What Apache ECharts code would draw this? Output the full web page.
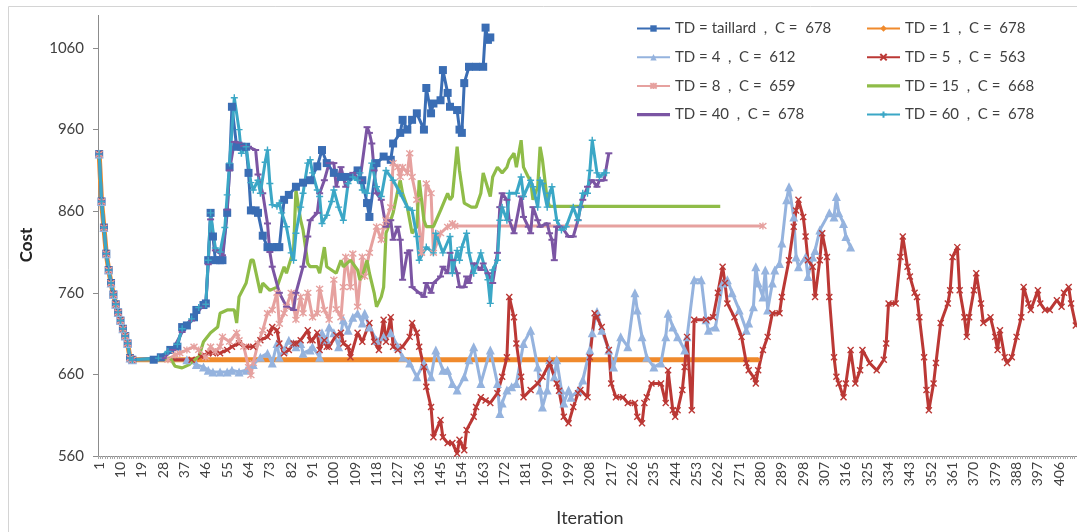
<!DOCTYPE html>
<html>
<head>
<meta charset="utf-8">
<script src="https://cdn.jsdelivr.net/npm/echarts@6/dist/echarts.min.js"></script>
<style>
  html, body { margin: 0; padding: 0; background: #ffffff; }
  #chart { width: 1077px; height: 532px; }
</style>
</head>
<body>
<div id="chart"></div>
<script>
// Iterations on the x axis (1 … 413), labelled every 9th.
const iterationCount = 413;
const iterations = Array.from({ length: iterationCount }, (_, i) => String(i + 1));

// Y axis range and step.
const costMin = 560;
const costMax = 1100;
const costStep = 100;

// Legend entries.
const names = {
  taillard: 'TD = taillard  ,  C =  678',
  td1: 'TD = 1  ,  C =  678',
  td4: 'TD = 4  ,  C =  612',
  td5: 'TD = 5  ,  C =  563',
  td8: 'TD = 8  ,  C =  659',
  td15: 'TD = 15  ,  C =  668',
  td40: 'TD = 40  ,  C =  678',
  td60: 'TD = 60  ,  C =  678'
};

// Shared opening descent of every run: [iteration, cost].
const descent = [[1,930],[2,872],[3,840],[4,808],[5,788],[6,772],[7,758],[8,746],[9,736],[10,726],[11,716],[12,707],[13,698],[14,680],[15,678]];

const taillard = [[24,678],[27,681],[31,690],[34,694],[36,718],[38,720],[41,730],[42,739],[45,745],[46,747],[47,800],[48,858],[49,829],[50,800],[52,800],[53,800],[55,858],[56,914],[57,988],[59,939],[61,939],[63,939],[64,907],[65,861],[67,861],[68,858],[70,830],[72,816],[74,816],[76,816],[77,816],[79,874],[81,880],[84,890],[87,895],[90,898],[93,915],[95,935],[97,919],[100,907],[103,902],[106,902],[110,910],[112,898],[114,870],[115,853],[118,919],[121,927],[124,923],[125,943],[128,956],[129,972],[131,960],[133,972],[135,980],[138,960],[139,1011],[141,980],[142,992],[145,996],[146,1033],[148,1005],[149,988],[152,984],[153,960],[154,956],[155,1017],[157,1037],[160,1037],[163,1037],[164,1085],[165,1070],[166,1073]];

const td1 = [[279,678]];

const td4 = [[38,678],[42,672],[45,669],[47,665],[49,663],[52,663],[55,663],[57,665],[60,663],[63,665],[66,672],[69,681],[72,686],[74,674],[76,698],[77,681],[79,690],[81,702],[83,698],[84,694],[86,698],[87,686],[90,690],[91,694],[94,681],[95,711],[97,702],[98,718],[100,711],[102,694],[104,727],[106,714],[108,730],[110,735],[112,723],[113,735],[115,718],[118,702],[121,706],[124,711],[127,694],[129,681],[132,674],[135,657],[138,674],[141,657],[143,690],[146,665],[148,665],[150,649],[152,641],[155,657],[157,678],[159,694],[162,649],[166,690],[169,649],[170,612],[171,625],[173,641],[175,645],[177,649],[180,698],[183,714],[186,669],[187,641],[188,620],[190,641],[191,678],[193,657],[194,678],[196,641],[197,625],[199,641],[200,632],[203,640],[205,653],[208,690],[209,711],[211,737],[213,714],[216,690],[218,669],[221,706],[224,694],[227,760],[228,739],[230,706],[232,681],[235,669],[238,674],[240,706],[241,735],[243,718],[245,706],[248,690],[249,706],[252,776],[255,776],[257,727],[258,714],[261,718],[264,772],[266,776],[268,760],[271,739],[274,714],[275,723],[277,743],[278,792],[279,772],[281,755],[282,788],[283,739],[285,772],[286,788],[288,796],[289,821],[291,874],[292,890],[294,853],[295,804],[296,792],[299,804],[300,780],[302,804],[303,812],[305,837],[309,858],[311,853],[312,878],[313,858],[315,845],[316,829],[318,816]];

const td5 = [[40,678],[44,682],[47,686],[49,686],[52,686],[55,690],[57,694],[60,698],[63,694],[66,694],[69,702],[72,706],[73,711],[74,718],[76,714],[77,698],[79,686],[81,690],[83,698],[84,698],[86,702],[89,714],[90,702],[91,702],[93,711],[94,690],[96,702],[97,694],[98,694],[101,708],[103,711],[104,698],[106,694],[107,681],[110,711],[112,700],[115,723],[117,700],[119,690],[121,727],[122,700],[124,730],[125,694],[127,690],[129,694],[132,706],[133,723],[135,711],[136,694],[138,669],[139,645],[141,620],[142,583],[145,604],[146,583],[148,576],[150,576],[152,563],[153,580],[155,567],[156,592],[159,608],[160,620],[162,632],[164,628],[166,625],[169,637],[171,657],[173,681],[174,755],[176,730],[177,698],[179,657],[180,632],[183,641],[186,649],[188,657],[191,674],[194,649],[195,640],[197,608],[199,600],[201,620],[203,637],[204,641],[207,632],[208,681],[210,735],[211,730],[213,718],[216,690],[217,649],[219,632],[222,632],[224,625],[227,625],[228,608],[230,600],[231,625],[232,632],[234,649],[238,649],[240,625],[241,665],[243,616],[244,608],[245,616],[247,641],[248,669],[249,706],[251,616],[252,727],[257,727],[260,730],[262,760],[264,792],[265,772],[266,747],[269,730],[272,706],[274,674],[275,665],[277,657],[278,649],[279,665],[281,690],[283,706],[285,735],[288,735],[289,755],[292,800],[294,841],[295,861],[296,874],[298,853],[299,829],[300,800],[302,792],[303,755],[305,800],[306,833],[308,804],[309,755],[311,681],[312,657],[313,649],[315,632],[316,649],[318,690],[320,649],[322,665],[323,690],[326,674],[329,665],[332,678],[333,698],[334,747],[337,747],[339,804],[340,829],[342,792],[343,780],[345,760],[346,755],[347,730],[349,681],[350,641],[351,616],[353,649],[354,674],[356,723],[359,747],[360,763],[361,804],[363,816],[364,763],[366,730],[367,706],[368,730],[370,763],[371,784],[373,747],[374,723],[377,730],[379,706],[380,690],[381,714],[383,681],[384,674],[386,681],[388,706],[390,730],[391,767],[393,747],[394,739],[397,763],[398,747],[400,739],[402,739],[405,751],[407,743],[408,760],[410,767],[411,747],[413,720]];

const td8 = [[30,678],[33,684],[35,686],[38,690],[41,694],[43,690],[46,681],[48,694],[50,688],[52,694],[53,706],[56,700],[59,711],[60,702],[62,694],[64,669],[65,659],[66,674],[68,698],[70,714],[72,735],[74,739],[76,760],[77,722],[79,735],[80,743],[82,760],[84,727],[86,755],[87,735],[89,760],[91,730],[93,735],[94,765],[96,739],[98,727],[100,776],[101,740],[103,730],[104,767],[105,804],[107,767],[108,808],[110,743],[112,804],[113,780],[115,809],[118,841],[120,825],[121,841],[122,849],[124,865],[125,919],[127,914],[128,902],[129,914],[131,907],[132,931],[133,902],[135,874],[137,809],[139,894],[141,882],[142,809],[145,833],[148,841],[150,845],[151,842],[281,842]];

const td15 = [[28,678],[31,680],[33,670],[36,668],[39,672],[41,678],[43,681],[45,700],[48,711],[51,718],[52,735],[55,739],[58,739],[59,723],[60,755],[63,772],[65,800],[66,800],[69,760],[70,772],[73,763],[76,767],[79,792],[80,784],[83,812],[84,886],[86,849],[87,837],[89,796],[90,792],[93,792],[94,784],[96,816],[97,792],[101,784],[103,800],[104,792],[107,800],[110,788],[111,776],[112,780],[114,800],[115,784],[117,760],[118,743],[120,755],[121,767],[122,833],[124,849],[125,858],[127,886],[128,898],[129,882],[131,865],[133,833],[135,841],[136,898],[138,849],[139,841],[142,841],[145,861],[148,882],[149,874],[150,878],[152,939],[153,910],[155,870],[158,865],[160,865],[162,882],[163,907],[166,878],[167,902],[169,914],[171,907],[173,914],[174,923],[176,931],[177,914],[179,947],[180,914],[182,902],[183,898],[184,874],[186,890],[187,939],[188,923],[190,874],[191,866],[263,866]];

const td40 = [[28,680],[32,690],[36,712],[40,726],[44,742],[46,746],[47,795],[48,850],[50,812],[53,806],[55,862],[56,910],[58,945],[60,944],[62,940],[64,939],[67,935],[68,905],[70,882],[72,845],[73,810],[74,792],[77,760],[80,743],[83,739],[84,760],[87,792],[89,829],[90,849],[93,858],[94,882],[96,898],[98,919],[100,919],[101,890],[103,914],[105,890],[108,907],[111,898],[114,963],[115,956],[116,943],[117,910],[118,882],[120,874],[122,841],[124,849],[125,825],[127,841],[128,825],[129,776],[131,809],[132,812],[133,767],[136,760],[138,755],[139,772],[141,760],[142,772],[145,780],[146,792],[148,784],[149,809],[150,800],[152,784],[153,767],[155,767],[156,780],[157,772],[159,796],[162,788],[163,796],[165,784],[167,772],[169,809],[170,865],[171,882],[173,874],[174,849],[176,833],[179,878],[180,853],[182,841],[183,833],[184,865],[186,849],[187,841],[190,845],[191,833],[192,825],[193,800],[194,841],[196,841],[199,829],[201,829],[203,849],[204,865],[205,874],[207,890],[209,898],[211,890],[212,898],[214,898],[216,931]];

const td60 = [[26,680],[30,688],[34,697],[36,716],[40,728],[43,742],[46,746],[47,800],[48,858],[50,815],[52,810],[54,840],[55,880],[56,919],[58,999],[60,960],[61,931],[63,939],[65,895],[66,886],[68,898],[69,882],[71,920],[72,935],[73,894],[74,868],[76,866],[77,870],[78,858],[80,841],[82,809],[83,800],[84,833],[86,865],[87,882],[89,919],[90,923],[91,907],[93,886],[94,878],[95,845],[97,855],[99,872],[100,886],[102,865],[104,849],[106,894],[108,902],[110,898],[111,907],[112,886],[114,882],[116,919],[118,890],[120,878],[122,910],[125,898],[128,882],[131,865],[133,861],[135,829],[136,800],[139,816],[142,809],[143,833],[146,809],[149,829],[150,784],[152,812],[153,800],[154,816],[156,833],[157,809],[159,784],[162,809],[165,776],[166,747],[167,788],[169,800],[170,849],[171,865],[173,849],[174,882],[177,882],[179,902],[180,878],[183,898],[184,890],[186,865],[187,898],[188,894],[190,865],[191,882],[192,890],[194,849],[196,837],[198,841],[201,865],[203,849],[204,865],[205,882],[207,882],[208,910],[209,947],[211,907],[212,902],[214,907],[215,907]];

// Marker shapes drawn as stroked paths.
const crossMark = 'path://M0,0L8,8M8,0L0,8';
const starMark = 'path://M0,0L8,8M8,0L0,8M4,-1L4,9';
const plusMark = 'path://M4,0L4,8M0,4L8,4';
// Plain bar used as the legend key of the marker-less runs.
const barIcon = 'path://M0,0L32,0L32,3L0,3Z';

const FONT = 'Lato, "Open Sans", "Liberation Sans", sans-serif';
const TEXT = '#404040';
const AXIS = '#8c8c8c';

function run(name, pts, color, symbol, symbolSize, extra) {
  const s = {
    name,
    type: 'line',
    data: descent.concat(pts).map(p => [p[0] - 1, p[1]]),
    color,
    symbol,
    symbolSize,
    showSymbol: symbol !== 'none',
    showAllSymbol: true,
    lineStyle: { width: 3, color },
    itemStyle: { color, borderColor: color, borderWidth: 0 },
    emphasis: { disabled: true },
    animation: false
  };
  return Object.assign(s, extra || {});
}

const strokeMarker = color => ({ itemStyle: { color, borderColor: color, borderWidth: 1.4 } });

const legendBase = {
  orient: 'vertical', top: 21, padding: 0,
  itemWidth: 33, itemHeight: 8, itemGap: 13.7,
  textStyle: { fontFamily: FONT, fontSize: 15, color: TEXT }
};

const chart = echarts.init(document.getElementById('chart'), null, { renderer: 'canvas' });

chart.setOption({
  backgroundColor: '#ffffff',
  animation: false,
  textStyle: { fontFamily: FONT },
  grid: {
    left: 98, top: 15.4, right: 0, bottom: 76,
    containLabel: false, outerBoundsMode: 'none'
  },
  legend: [
    Object.assign({}, legendBase, {
      left: 636,
      data: [names.taillard, names.td4, names.td8, { name: names.td40, icon: barIcon }]
    }),
    Object.assign({}, legendBase, {
      left: 866,
      data: [names.td1, names.td5, { name: names.td15, icon: barIcon }, names.td60]
    })
  ],
  xAxis: {
    type: 'category',
    data: iterations,
    boundaryGap: true,
    axisLine: { show: true, lineStyle: { color: AXIS, width: 1 } },
    axisTick: { show: true, interval: 0, length: 3, lineStyle: { color: '#a8a8a8', width: 1 } },
    axisLabel: {
      interval: 8, rotate: 90, margin: 6,
      fontFamily: FONT, fontSize: 14, color: TEXT
    },
    splitLine: { show: false }
  },
  yAxis: {
    type: 'value',
    min: costMin, max: costMax, interval: costStep,
    axisLine: { show: true, lineStyle: { color: AXIS, width: 1 } },
    axisTick: { show: true, length: 5, lineStyle: { color: AXIS } },
    axisLabel: {
      margin: 14, fontFamily: FONT, fontSize: 15, color: TEXT, showMaxLabel: false,
      formatter: v => String(v)
    },
    splitLine: { show: false }
  },
  graphic: [
    {
      type: 'rect', silent: true, z: -1,
      shape: { x: 8.5, y: 6.5, width: 1200, height: 800 },
      style: { fill: 'none', stroke: '#d4d4d4', lineWidth: 1 }
    },
    {
      type: 'text', x: 27, y: 245, rotation: Math.PI / 2,
      style: { text: 'Cost', font: 'bold 17px ' + FONT, fill: '#222', align: 'center', verticalAlign: 'middle' }
    },
    {
      type: 'text', x: 590, y: 518,
      style: { text: 'Iteration', font: '18px ' + FONT, fill: '#333', align: 'center', verticalAlign: 'middle' }
    }
  ],
  series: [
    run(names.taillard, taillard, '#3a6db4', 'rect', 8),
    run(names.td1, td1, '#f08a2c', 'diamond', 5, { lineStyle: { width: 5, color: '#f08a2c' } }),
    run(names.td4, td4, '#95b3de', 'triangle', 9),
    run(names.td5, td5, '#bb3835', crossMark, 6, strokeMarker('#bb3835')),
    run(names.td8, td8, '#e6a19f', starMark, 7, strokeMarker('#e6a19f')),
    run(names.td15, td15, '#8fbc48', 'none', 0, { lineStyle: { width: 3.2, color: '#8fbc48' } }),
    run(names.td40, td40, '#7b55a3', 'rect', [7, 2], { lineStyle: { width: 3, color: '#7b55a3' } }),
    run(names.td60, td60, '#3ba7c6', plusMark, 7, strokeMarker('#3ba7c6'))
  ]
});
</script>
</body>
</html>
